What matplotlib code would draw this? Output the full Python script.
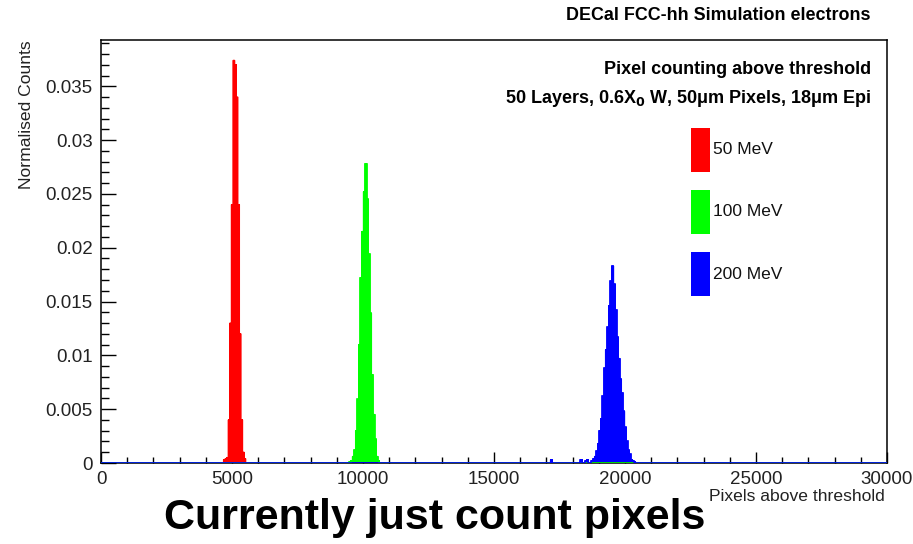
import numpy as np
import matplotlib
matplotlib.use("Agg")
import matplotlib.pyplot as plt
from matplotlib.patches import Rectangle
from matplotlib.ticker import MultipleLocator, FuncFormatter

plt.rcParams['font.family'] = ['Liberation Sans', 'DejaVu Sans']
# narrow peaks get mangled by path simplification
plt.rcParams['path.simplify'] = False

# histogram binning (pixels above threshold)
BIN_W = 60
X_MAX = 30000

# normalised counts per bin, starting at the given lower edge
red_start = 4720
red_counts = [0.0003, 0.0004, 0.0005, 0.0040, 0.0130, 0.0240, 0.0374, 0.0370,
              0.0340, 0.0240, 0.0120, 0.0040, 0.0010, 0.0004]

green_start = 9480
green_counts = [0.0001, 0.0002, 0.0006, 0.0012, 0.0030, 0.0059, 0.0110, 0.0172,
                0.0215, 0.0252, 0.0278, 0.0245, 0.0194, 0.0139, 0.0082, 0.0045,
                0.0022, 0.0006, 0.0002]

blue_start = 18720
blue_counts = [0.0002, 0.0004, 0.0006, 0.0011, 0.0018, 0.0030, 0.0041, 0.0062,
               0.0088, 0.0105, 0.0126, 0.0146, 0.0169, 0.0183, 0.0166, 0.0142,
               0.0117, 0.0097, 0.0078, 0.0065, 0.0048, 0.0033, 0.0020, 0.0012,
               0.0008, 0.0003, 0.0002, 0.0001]
# a few isolated low-count entries below the 200 MeV peak
blue_stray_x = [17190, 18340, 18490, 18580]
blue_stray_h = [0.0003, 0.0003, 0.0002, 0.0003]

labels = ['50 MeV', '100 MeV', '200 MeV']
colors = ['#ff0000', '#00ff00', '#0000ff']

edges = np.arange(0, X_MAX + BIN_W, BIN_W)


def full_hist(start, counts, stray_x=(), stray_h=()):
    h = np.zeros(len(edges) - 1)
    i0 = start // BIN_W
    h[i0:i0 + len(counts)] = counts
    for x, v in zip(stray_x, stray_h):
        h[int(x // BIN_W)] = v
    return h


hists = [full_hist(red_start, red_counts),
         full_hist(green_start, green_counts),
         full_hist(blue_start, blue_counts, blue_stray_x, blue_stray_h)]

fig = plt.figure(figsize=(9.13, 5.44), dpi=100)
ax = fig.add_axes([101 / 913, 1 - 463 / 544, 786 / 913, 423 / 544])

for h, c in zip(hists, colors):
    ax.stairs(h, edges, fill=True, facecolor=c, edgecolor='none', lw=0,
              antialiased=False, snap=False, zorder=2)
    ax.stairs(h, edges, color=c, lw=1.0, snap=False, zorder=2)
ax.stairs(hists[1], edges, color=colors[1], lw=1.2, zorder=3)
ax.stairs(hists[2], edges, color=colors[2], lw=1.2, zorder=4)

ax.set_xlim(0, X_MAX)
ax.set_ylim(0, 0.0393)

ax.xaxis.set_major_locator(MultipleLocator(5000))
ax.xaxis.set_minor_locator(MultipleLocator(1000))
ax.yaxis.set_major_locator(MultipleLocator(0.005))
ax.yaxis.set_minor_locator(MultipleLocator(0.001))
fmt = FuncFormatter(lambda v, p: f"{v:g}")
ax.xaxis.set_major_formatter(fmt)
ax.yaxis.set_major_formatter(fmt)

ax.tick_params(axis='x', which='major', direction='in', length=8, width=1, pad=6,
               labelsize=13.5, labelcolor='#222222')
ax.tick_params(axis='x', which='minor', direction='in', length=4, width=1)
ax.tick_params(axis='y', which='major', direction='in', length=11, width=1, pad=6,
               labelsize=13.5, labelcolor='#222222')
ax.tick_params(axis='y', which='minor', direction='in', length=5.5, width=1)
for sp in ax.spines.values():
    sp.set_linewidth(1.1)

ax.set_xlabel('Pixels above threshold', fontsize=12.6, color='#222222')
ax.xaxis.set_label_coords(0.9975, -0.062)
ax.xaxis.label.set_horizontalalignment('right')
ax.set_ylabel('Normalised Counts', fontsize=12.6, color='#222222')
ax.yaxis.set_label_coords(-0.085, 1.0)
ax.yaxis.label.set_horizontalalignment('right')

# legend boxes
for i, (lab, c) in enumerate(zip(labels, colors)):
    y_top = 0.792 - i * 0.1466
    ax.add_patch(Rectangle((0.7506, y_top - 0.104), 0.0242, 0.104, transform=ax.transAxes,
                           facecolor=c, edgecolor='none', zorder=5, clip_on=False))
    ax.text(0.7786, y_top - 0.052, lab, transform=ax.transAxes, fontsize=12.5,
            va='center', ha='left', color='#111111', zorder=6)

ax.text(0.9796, 0.930, 'Pixel counting above threshold', transform=ax.transAxes,
        fontsize=13, fontweight='bold', ha='right', va='center')
ax.text(0.9796, 0.862, r'50 Layers, 0.6X$_{\mathbf{0}}$ W, 50μm Pixels, 18μm Epi',
        transform=ax.transAxes, fontsize=13, fontweight='bold', ha='right', va='center')

fig.text(870 / 913, 1 - 15 / 544, 'DECal FCC-hh Simulation electrons', fontsize=12.9,
         fontweight='bold', ha='right', va='center')
fig.text(435 / 913, 1 - 518 / 544, 'Currently just count pixels', fontsize=31,
         fontweight='bold', ha='center', va='center')

fig.savefig('out.png', dpi=100)
